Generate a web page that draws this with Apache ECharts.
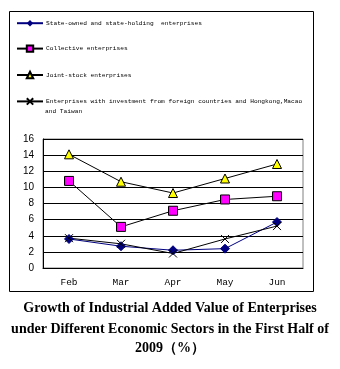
<!DOCTYPE html>
<html><head><meta charset="utf-8">
<script src="https://cdn.jsdelivr.net/npm/echarts@6/dist/echarts.min.js"></script>
<style>html,body{margin:0;padding:0;background:#fff}#c{width:340px;height:369px}</style>
</head><body><div id="c"></div>
<script>
var categories = ['Feb','Mar','Apr','May','Jun'];
var stateOwned = [3.6, 2.7, 2.2, 2.4, 5.7];
var collective = [10.8, 5.1, 7.1, 8.5, 8.9];
var jointStock = [14.1, 10.7, 9.3, 11.1, 12.9];
var foreignInv = [3.7, 3.0, 1.8, 3.6, 5.2];
var seriesNames = ['State-owned and state-holding  enterprises','Collective enterprises','Joint-stock enterprises','Enterprises with investment from foreign countries and Hongkong,Macao'];
var yTicks = {min:0, max:16, interval:2};
var titleLines = ['Growth of Industrial Added Value of Enterprises','under Different Economic Sectors in the First Half of','2009\uFF08%\uFF09'];

var chart = echarts.init(document.getElementById('c'), null, {renderer:'canvas'});
var crossPath = 'path://M0,0L10,10M10,0L0,10';
var titleGraphics = titleLines.map(function(t, i){
  return {type:'text', x:170, y:[308,329,348][i], style:{text:t, font:'bold 14px "Liberation Serif"', fill:'#000', textAlign:'center', textVerticalAlign:'middle'}};
});
chart.setOption({
  animation:false,
  backgroundColor:'#fff',
  grid:{left:43, right:37, top:139, bottom:101, show:true, borderColor:'#808080', borderWidth:1, backgroundColor:'transparent'},
  legend:{
    orient:'vertical', left:16, top:20, padding:0, itemWidth:26, itemHeight:8, itemGap:18,
    textStyle:{fontFamily:'Liberation Mono', fontSize:6.2, color:'#000', padding:[0,0,0,-2]},
    data:seriesNames
  },
  xAxis:{type:'category', data:categories, boundaryGap:true,
    axisLine:{lineStyle:{color:'#000', width:1}},
    axisTick:{inside:true, length:4, lineStyle:{color:'#000'}},
    axisLabel:{fontFamily:'Liberation Mono', fontSize:9.5, color:'#000', margin:9},
    splitLine:{show:false}},
  yAxis:{type:'value', min:yTicks.min, max:yTicks.max, interval:yTicks.interval,
    axisLine:{show:true, lineStyle:{color:'#000'}},
    axisTick:{show:false},
    axisLabel:{fontFamily:'Liberation Sans', fontSize:10, color:'#000', margin:9},
    splitLine:{lineStyle:{color:'#000', width:1}}},
  series:[
    {name:seriesNames[0], type:'line', data:stateOwned, symbol:'diamond', symbolSize:9,
     lineStyle:{color:'#000080', width:1}, itemStyle:{color:'#000080', borderColor:'#000080'}},
    {name:seriesNames[1], type:'line', data:collective, symbol:'rect', symbolSize:9,
     lineStyle:{color:'#000', width:1}, itemStyle:{color:'#FF00FF', borderColor:'#000', borderWidth:1}},
    {name:seriesNames[2], type:'line', data:jointStock, symbol:'triangle', symbolSize:9,
     lineStyle:{color:'#000', width:1}, itemStyle:{color:'#FFFF00', borderColor:'#000', borderWidth:1}},
    {name:seriesNames[3], type:'line', data:foreignInv, symbol:crossPath, symbolSize:8,
     lineStyle:{color:'#000', width:1}, itemStyle:{color:'rgba(0,0,0,0)', borderColor:'#000', borderWidth:1}}
  ],
  graphic:[
    {type:'rect', shape:{x:9.5, y:11.5, width:304, height:280}, style:{fill:'none', stroke:'#000', lineWidth:1}, silent:true, z:-1},
    {type:'text', x:45, y:111, style:{text:'and Taiwan', font:'6.2px "Liberation Mono"', fill:'#000', textVerticalAlign:'middle'}}
  ].concat(titleGraphics)
});
</script></body></html>
